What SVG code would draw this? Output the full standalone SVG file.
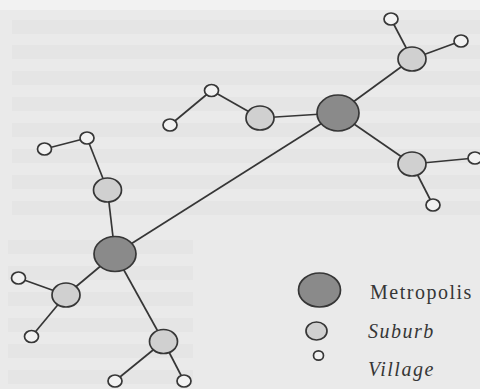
<svg xmlns="http://www.w3.org/2000/svg" width="480" height="389" viewBox="0 0 480 389">
  <style>
    .edge { stroke: #363636; stroke-width: 1.7; fill: none; }
    .metro { fill: #8a8a8a; stroke: #363636; stroke-width: 1.7; }
    .suburb { fill: #d0d0d0; stroke: #363636; stroke-width: 1.7; }
    .village { fill: #f2f2f2; stroke: #363636; stroke-width: 1.7; }
    .band { fill: #000; opacity: 0.02; }
    .lbl { font-family: "Liberation Serif", "Times New Roman", serif; font-size: 20px; fill: #363636; letter-spacing: 1.5px; }
    .it { font-style: italic; }
  </style>
  <rect x="0" y="0" width="480" height="389" fill="#eaeaea"/>
  <rect x="0" y="0" width="480" height="10" fill="#f2f2f2"/>
  <g id="background-bands">
    <rect class="band" x="12" y="20" width="468" height="14"/>
    <rect class="band" x="12" y="45" width="468" height="14"/>
    <rect class="band" x="12" y="71" width="468" height="14"/>
    <rect class="band" x="12" y="97" width="468" height="14"/>
    <rect class="band" x="12" y="123" width="468" height="14"/>
    <rect class="band" x="12" y="149" width="468" height="14"/>
    <rect class="band" x="12" y="175" width="468" height="14"/>
    <rect class="band" x="12" y="201" width="468" height="14"/>
    <rect class="band" x="8" y="240" width="185" height="14"/>
    <rect class="band" x="8" y="266" width="185" height="14"/>
    <rect class="band" x="8" y="292" width="185" height="14"/>
    <rect class="band" x="8" y="318" width="185" height="14"/>
    <rect class="band" x="8" y="344" width="185" height="14"/>
    <rect class="band" x="8" y="370" width="185" height="14"/>
  </g>
  <g id="connectors">
    <line class="edge" x1="338" y1="113" x2="115" y2="254"/>
    <line class="edge" x1="338" y1="113" x2="412" y2="59"/>
    <line class="edge" x1="338" y1="113" x2="260" y2="118"/>
    <line class="edge" x1="338" y1="113" x2="412" y2="164"/>
    <line class="edge" x1="412" y1="59" x2="391" y2="19"/>
    <line class="edge" x1="412" y1="59" x2="461" y2="41"/>
    <line class="edge" x1="260" y1="118" x2="211.5" y2="90.5"/>
    <line class="edge" x1="211.5" y1="90.5" x2="170" y2="125"/>
    <line class="edge" x1="412" y1="164" x2="475" y2="158"/>
    <line class="edge" x1="412" y1="164" x2="433" y2="205"/>
    <line class="edge" x1="115" y1="254" x2="107.5" y2="190"/>
    <line class="edge" x1="115" y1="254" x2="66" y2="295"/>
    <line class="edge" x1="115" y1="254" x2="163.5" y2="341.5"/>
    <line class="edge" x1="107.5" y1="190" x2="87" y2="138"/>
    <line class="edge" x1="87" y1="138" x2="44.5" y2="149"/>
    <line class="edge" x1="66" y1="295" x2="18.5" y2="278"/>
    <line class="edge" x1="66" y1="295" x2="31.5" y2="336.5"/>
    <line class="edge" x1="163.5" y1="341.5" x2="115" y2="381"/>
    <line class="edge" x1="163.5" y1="341.5" x2="184" y2="381"/>
  </g>
  <g id="metro-1"><ellipse class="metro" cx="338" cy="113" rx="21" ry="18"/></g>
  <g id="metro-2"><ellipse class="metro" cx="115" cy="254" rx="21" ry="17.5"/></g>
  <g id="suburb-1"><ellipse class="suburb" cx="412" cy="59" rx="14" ry="12"/></g>
  <g id="suburb-2"><ellipse class="suburb" cx="260" cy="118" rx="14" ry="12"/></g>
  <g id="suburb-3"><ellipse class="suburb" cx="412" cy="164" rx="14" ry="12"/></g>
  <g id="suburb-4"><ellipse class="suburb" cx="107.5" cy="190" rx="14" ry="12"/></g>
  <g id="suburb-5"><ellipse class="suburb" cx="66" cy="295" rx="14" ry="12"/></g>
  <g id="suburb-6"><ellipse class="suburb" cx="163.5" cy="341.5" rx="14" ry="12"/></g>
  <g id="village-1"><ellipse class="village" cx="391" cy="19" rx="7" ry="6"/></g>
  <g id="village-2"><ellipse class="village" cx="461" cy="41" rx="7" ry="6"/></g>
  <g id="village-3"><ellipse class="village" cx="211.5" cy="90.5" rx="7" ry="6"/></g>
  <g id="village-4"><ellipse class="village" cx="170" cy="125" rx="7" ry="6"/></g>
  <g id="village-5"><ellipse class="village" cx="475" cy="158" rx="7" ry="6"/></g>
  <g id="village-6"><ellipse class="village" cx="433" cy="205" rx="7" ry="6"/></g>
  <g id="village-7"><ellipse class="village" cx="87" cy="138" rx="7" ry="6"/></g>
  <g id="village-8"><ellipse class="village" cx="44.5" cy="149" rx="7" ry="6"/></g>
  <g id="village-9"><ellipse class="village" cx="18.5" cy="278" rx="7" ry="6"/></g>
  <g id="village-10"><ellipse class="village" cx="31.5" cy="336.5" rx="7" ry="6"/></g>
  <g id="village-11"><ellipse class="village" cx="115" cy="381" rx="7" ry="6"/></g>
  <g id="village-12"><ellipse class="village" cx="184" cy="381" rx="7" ry="6"/></g>
  <g id="legend">
    <ellipse class="metro" cx="319.5" cy="290" rx="21" ry="17"/>
    <ellipse class="suburb" cx="316.5" cy="331" rx="10.5" ry="9"/>
    <ellipse class="village" cx="318.5" cy="355.5" rx="5" ry="4.7"/>
    <text class="lbl" x="370" y="299">Metropolis</text>
    <text class="lbl it" x="368" y="338">Suburb</text>
    <text class="lbl it" x="368" y="376">Village</text>
  </g>
</svg>
